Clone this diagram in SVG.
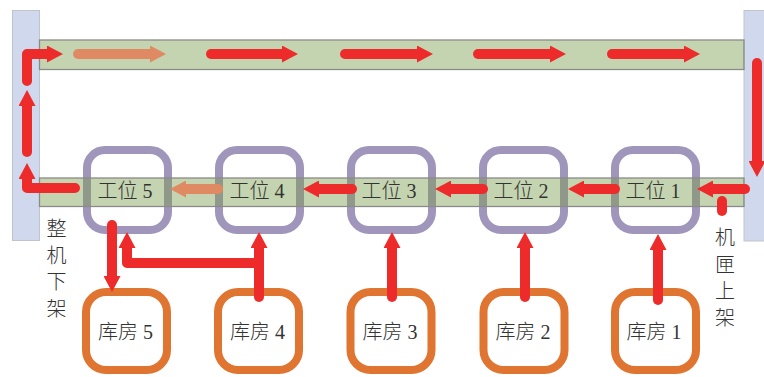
<svg xmlns="http://www.w3.org/2000/svg" width="764" height="377" viewBox="0 0 764 377">
  <style>
    .rail { fill: #cfd8ec; stroke: #bfc3cc; stroke-width: 1; }
    .track { fill: #7b9d4b; fill-opacity: 0.44; stroke: #8a8a8a; stroke-width: 1.3; }
    .station { fill: none; stroke: #a095bb; stroke-width: 8; }
    .store { fill: none; stroke: #e07431; stroke-width: 8; }
    .label { font-family: "Liberation Serif", "Noto Sans CJK SC", serif; font-size: 20px; font-weight: 300; fill: #333333; text-anchor: middle; }
    .flow { fill: none; stroke: #ee2b2b; stroke-width: 10; stroke-linecap: round; stroke-linejoin: round; marker-end: url(#head); }
    .flow.faded { stroke: #e08a64; marker-end: url(#headFaded); }
    .stub { fill: none; stroke: #ee2b2b; stroke-width: 10; stroke-linecap: round; }
  </style>
  <defs>
    <marker id="head" markerUnits="userSpaceOnUse" markerWidth="16" markerHeight="17" refX="0" refY="8.5" orient="auto" viewBox="0 0 16 17">
      <path d="M0,0 L16,8.5 L0,17 Z" fill="#ee2b2b"/>
    </marker>
    <marker id="headFaded" markerUnits="userSpaceOnUse" markerWidth="16" markerHeight="17" refX="0" refY="8.5" orient="auto" viewBox="0 0 16 17">
      <path d="M0,0 L16,8.5 L0,17 Z" fill="#e08a64"/>
    </marker>
  </defs>

  <!-- side lifts -->
  <rect class="rail" x="12.5" y="10.5" width="27" height="230"/>
  <rect class="rail" x="744" y="10.5" width="26" height="230.5"/>

  <!-- workstations -->
  <g id="station5"><rect class="station" x="87" y="150" width="81" height="80" rx="18"/></g>
  <g id="station4"><rect class="station" x="219" y="150" width="81" height="80" rx="18"/></g>
  <g id="station3"><rect class="station" x="351" y="150" width="81" height="80" rx="18"/></g>
  <g id="station2"><rect class="station" x="483" y="150" width="81" height="80" rx="18"/></g>
  <g id="station1"><rect class="station" x="615" y="150" width="81" height="80" rx="18"/></g>

  <!-- conveyor tracks -->
  <rect class="track" x="39.5" y="40" width="704.5" height="29.5"/>
  <rect class="track" x="39.5" y="178" width="704.5" height="28.5"/>

  <!-- workstation labels -->
  <g id="station5-label"><text class="label" x="125" y="197.5">工位 5</text></g>
  <g id="station4-label"><text class="label" x="257" y="197.5">工位 4</text></g>
  <g id="station3-label"><text class="label" x="389" y="197.5">工位 3</text></g>
  <g id="station2-label"><text class="label" x="521" y="197.5">工位 2</text></g>
  <g id="station1-label"><text class="label" x="653" y="197.5">工位 1</text></g>

  <!-- stores -->
  <g id="store5"><rect class="store" x="86" y="292" width="81" height="78" rx="20"/><text class="label" x="125.5" y="339">库房 5</text></g>
  <g id="store4"><rect class="store" x="218" y="292" width="81" height="78" rx="20"/><text class="label" x="257.5" y="339">库房 4</text></g>
  <g id="store3"><rect class="store" x="350.5" y="292" width="81" height="78" rx="20"/><text class="label" x="390" y="339">库房 3</text></g>
  <g id="store2"><rect class="store" x="483.5" y="292" width="81" height="78" rx="20"/><text class="label" x="523" y="339">库房 2</text></g>
  <g id="store1"><rect class="store" x="615" y="292" width="81" height="78" rx="20"/><text class="label" x="654" y="339">库房 1</text></g>

  <!-- side captions -->
  <g id="unload-label">
    <text class="label" x="56.5" y="236">整</text>
    <text class="label" x="56.5" y="262.5">机</text>
    <text class="label" x="56.5" y="289">下</text>
    <text class="label" x="56.5" y="315.5">架</text>
  </g>
  <g id="load-label">
    <text class="label" x="725" y="245">机</text>
    <text class="label" x="725" y="271.5">匣</text>
    <text class="label" x="725" y="298">上</text>
    <text class="label" x="725" y="324.5">架</text>
  </g>

  <!-- flow arrows -->
  <g id="connectors">
    <!-- upper track, left to right -->
    <path class="flow" d="M27,81 L27,54 L47,54"/>
    <path class="flow faded" d="M78,54 L150,54"/>
    <path class="flow" d="M211,54 L282,54"/>
    <path class="flow" d="M345,54 L417,54"/>
    <path class="flow" d="M478,54 L550,54"/>
    <path class="flow" d="M612,54 L684,54"/>
    <!-- right lift down -->
    <path class="flow" d="M757,63 L757,161"/>
    <!-- lower track, right to left -->
    <path class="flow" d="M745,189 L713,189"/>
    <path class="stub" d="M722,201 L722,211"/>
    <path class="flow" d="M615,189 L584,189"/>
    <path class="flow" d="M483,189 L451,189"/>
    <path class="flow" d="M352,189 L319,189"/>
    <path class="flow faded" d="M218,189 L186,189"/>
    <path class="flow" d="M75,188 L27,188 L27,179"/>
    <!-- left lift up -->
    <path class="flow" d="M27,152 L27,106"/>
    <!-- stores to workstations -->
    <path class="flow" d="M658,300 L658,250"/>
    <path class="flow" d="M525,297 L525,248"/>
    <path class="flow" d="M392,297 L392,248"/>
    <path class="flow" d="M259,297 L259,248"/>
    <path class="flow" d="M259,263 L127,263 L127,248"/>
    <!-- workstation 5 to store 5 -->
    <path class="flow" d="M112,225 L112,276"/>
  </g>
</svg>
